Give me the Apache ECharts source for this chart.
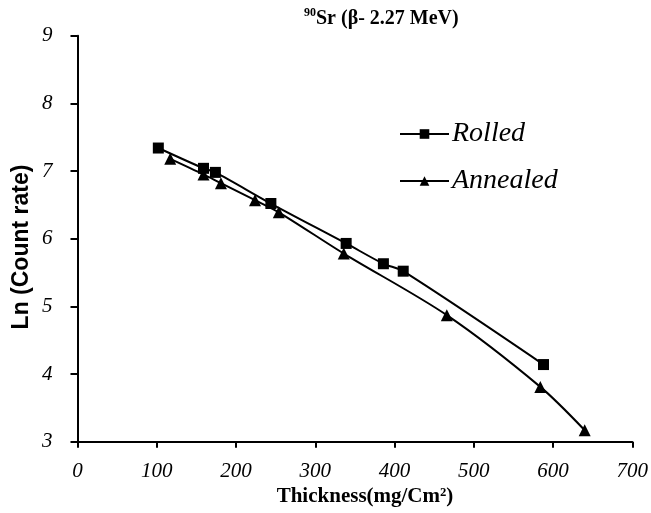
<!DOCTYPE html>
<html>
<head>
<meta charset="utf-8">
<script src="https://cdn.jsdelivr.net/npm/echarts@6/dist/echarts.min.js"></script>
<style>
html,body{margin:0;padding:0;background:#fff;}
#c{width:651px;height:513px;}
</style>
</head>
<body>
<div id="c"></div>
<script>
var rolledX = [102, 159, 174, 244, 339, 386, 411, 588];
var rolledY = [7.34, 7.04, 6.98, 6.52, 5.93, 5.63, 5.52, 4.14];
var annealedX = [117, 159, 181, 224, 254, 336, 466, 584, 640];
var annealedY = [7.18, 6.95, 6.82, 6.57, 6.39, 5.78, 4.87, 3.81, 3.17];
var xTicks = [0, 100, 200, 300, 400, 500, 600, 700];
var yTicks = [3, 4, 5, 6, 7, 8, 9];

function pairs(xs, ys) { return xs.map(function (x, i) { return [x, ys[i]]; }); }

var chart = echarts.init(document.getElementById('c'));
var serif = 'Liberation Serif';
chart.setOption({
  animation: false,
  backgroundColor: '#fff',
  grid: { left: 77.5, right: 13, top: 35.7, bottom: 71.3, containLabel: false },
  title: {
    text: '{sup|90}{m|Sr (β- 2.27 MeV)}',
    left: 299, top: 2,
    textStyle: {
      rich: {
        sup: { fontFamily: serif, fontWeight: 'bold', fontSize: 12, color: '#000', verticalAlign: 'top', lineHeight: 24, padding: [0, 0, 8, 0] },
        m: { fontFamily: serif, fontWeight: 'bold', fontSize: 20, color: '#000', lineHeight: 24 }
      }
    }
  },
  legend: {
    orient: 'vertical', left: 394, top: 115,
    itemWidth: 49, itemHeight: 12, itemGap: 19,
    textStyle: { fontFamily: serif, fontStyle: 'italic', fontSize: 28, color: '#000', padding: [0,0,0,-2] },
    data: ['Rolled', 'Annealed']
  },
  xAxis: {
    type: 'value', min: xTicks[0], max: xTicks[xTicks.length - 1], interval: 100,
    splitLine: { show: false },
    axisLine: { lineStyle: { color: '#000', width: 2 } },
    axisTick: { length: 6, lineStyle: { color: '#000', width: 2 } },
    axisLabel: { fontFamily: serif, fontStyle: 'italic', fontSize: 21, color: '#000', margin: 19 }
  },
  yAxis: {
    type: 'value', min: yTicks[0], max: yTicks[yTicks.length - 1], interval: 1,
    splitLine: { show: false },
    axisLine: { show: true, lineStyle: { color: '#000', width: 2 } },
    axisTick: { show: true, length: 7, lineStyle: { color: '#000', width: 2 } },
    axisLabel: { fontFamily: serif, fontStyle: 'italic', fontSize: 21, color: '#000', margin: 25 }
  },
  graphic: [
    { type: 'text', x: 22, y: 247, rotation: Math.PI / 2,
      style: { text: 'Ln (Count rate)', fontFamily: 'Liberation Sans', fontWeight: 'bold', fontSize: 23, fill: '#000', textAlign: 'center', textVerticalAlign: 'middle' } },
    { type: 'text', x: 365, y: 497,
      style: { text: 'Thickness(mg/Cm²)', fontFamily: serif, fontWeight: 'bold', fontSize: 21, fill: '#000', textAlign: 'center', textVerticalAlign: 'middle' } }
  ],
  series: [
    { name: 'Rolled', type: 'line', data: pairs(rolledX, rolledY), smooth: 0.3,
      symbol: 'rect', symbolSize: 11, color: '#000',
      lineStyle: { color: '#000', width: 2 }, itemStyle: { color: '#000' } },
    { name: 'Annealed', type: 'line', data: pairs(annealedX, annealedY), smooth: 0.3,
      symbol: 'triangle', symbolSize: 12, color: '#000',
      lineStyle: { color: '#000', width: 2 }, itemStyle: { color: '#000' } }
  ]
});
</script>
</body>
</html>
